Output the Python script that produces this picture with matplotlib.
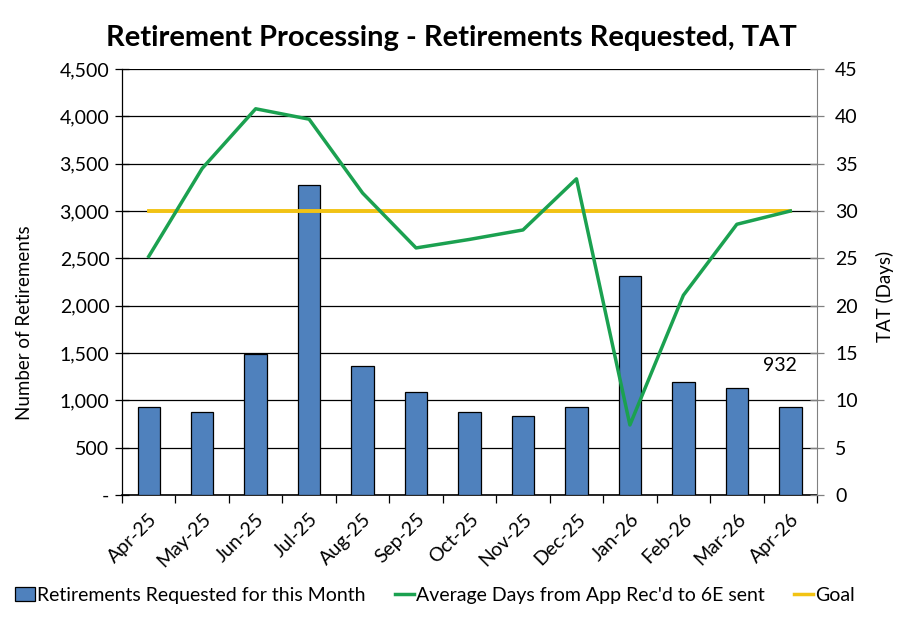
import numpy as np
import matplotlib
matplotlib.use('Agg')
import matplotlib.pyplot as plt
from matplotlib.patches import Patch
from matplotlib.lines import Line2D
from matplotlib.ticker import FuncFormatter, MultipleLocator

plt.rcParams['font.family'] = ['Lato', 'DejaVu Sans']

months = ['Apr-25', 'May-25', 'Jun-25', 'Jul-25', 'Aug-25', 'Sep-25', 'Oct-25',
          'Nov-25', 'Dec-25', 'Jan-26', 'Feb-26', 'Mar-26', 'Apr-26']
retirements = [928, 882, 1489, 3270, 1360, 1086, 875, 830, 928, 2310, 1192, 1127, 932]
avg_days = [25.2, 34.5, 40.8, 39.7, 31.9, 26.1, 27.0, 28.0, 33.4, 7.4, 21.1, 28.6, 30.0]
goal = [30] * len(months)

bar_color = '#4F81BD'
green = '#1BA150'
gold = '#F2C314'

x = np.arange(len(months))

fig = plt.figure(figsize=(9.03, 6.19), dpi=100)
ax = fig.add_axes([0.1351, 0.2003, 0.7697, 0.6882])
ax2 = ax.twinx()

ax.bar(x, retirements, width=0.42, color=bar_color, edgecolor='black', linewidth=0.9, zorder=3)
ax.set_axisbelow(True)
ax.set_xlim(-0.5, len(months) - 0.5)
ax.set_ylim(0, 4500)
ax.yaxis.set_major_locator(MultipleLocator(500))
ax.yaxis.set_major_formatter(FuncFormatter(lambda v, p: '-' if v == 0 else '{:,.0f}'.format(v)))
ax.grid(axis='y', color='black', linewidth=0.9)
ax.set_ylabel('Number of Retirements', fontsize=13.5)
ax.yaxis.set_label_coords(-0.128, 0.405)

# category ticks between months, labels at centers
ax.set_xticks(np.arange(-0.5, len(months), 1.0))
ax.set_xticklabels([])
ax.set_xticks(x, minor=True)
ax.set_xticklabels(months, minor=True, rotation=45, ha='right', rotation_mode='anchor', fontsize=14)
ax.tick_params(axis='x', which='major', direction='out', length=6, width=0.9)
ax.tick_params(axis='x', which='minor', length=0, pad=11)
ax.tick_params(axis='y', direction='inout', length=10, width=0.9, labelsize=14, pad=4)

ax.text(11.8, 1363, '932', ha='center', va='center', fontsize=14)

ax2.plot(x, goal, color=gold, linewidth=2.8, zorder=3)
ax2.plot(x, avg_days, color=green, linewidth=2.5, zorder=4)
ax2.set_ylim(0, 45)
ax2.yaxis.set_major_locator(MultipleLocator(5))
ax2.set_ylabel('TAT (Days)', fontsize=13.5)
ax2.yaxis.set_label_coords(1.085, 0.465)
ax2.tick_params(axis='y', direction='inout', length=10, width=0.9, colors='#808080', labelcolor='black', labelsize=14, pad=8)

for a in (ax, ax2):
    a.spines['top'].set_visible(False)
ax2.spines['right'].set_color('#808080')
ax2.spines['left'].set_visible(False)
ax2.spines['bottom'].set_visible(False)
ax.spines['right'].set_visible(False)
ax.spines['left'].set_linewidth(0.9)
ax.spines['bottom'].set_linewidth(1.2)

fig.suptitle('Retirement Processing - Retirements Requested, TAT', x=0.5, y=0.96,
             fontsize=21, fontweight='bold')

handles = [Patch(facecolor=bar_color, edgecolor='black', linewidth=0.9),
           Line2D([], [], color=green, linewidth=2.5),
           Line2D([], [], color=gold, linewidth=2.5)]
labels = ['Retirements Requested for this Month', "Average Days from App Rec'd to 6E sent", 'Goal']
fig.legend(handles, labels, loc='center', bbox_to_anchor=(0.482, 0.038), ncol=3, frameon=False,
           fontsize=14, handlelength=1.0, handletextpad=0.1, columnspacing=1.5)

fig.savefig('out.png', dpi=100)
